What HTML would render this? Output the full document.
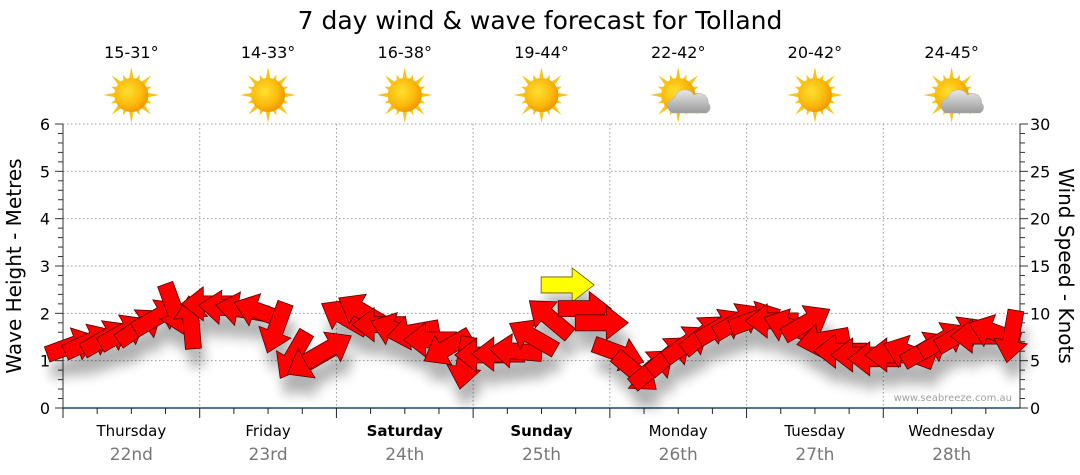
<!DOCTYPE html>
<html><head><meta charset="utf-8"><style>
html,body{margin:0;padding:0;background:#fff;width:1080px;height:475px;overflow:hidden}
svg text{font-family:"DejaVu Sans","Liberation Sans",sans-serif}
</style></head><body>
<svg id="c" width="1080" height="475" xmlns="http://www.w3.org/2000/svg">
<defs>
<radialGradient id="sunG" cx="40%" cy="40%" r="60%"><stop offset="0" stop-color="#ffe030"/><stop offset="0.7" stop-color="#fbb80a"/><stop offset="1" stop-color="#f09a00"/></radialGradient>
<linearGradient id="cloudG" x1="0" y1="0" x2="0" y2="1"><stop offset="0" stop-color="#e8e8e8"/><stop offset="1" stop-color="#9a9a9a"/></linearGradient>
<filter id="sh" x="-50%" y="-50%" width="200%" height="200%"><feGaussianBlur stdDeviation="6"/></filter>
</defs>
<text x="540" y="29" font-size="25" text-anchor="middle" fill="#000">7 day wind &amp; wave forecast for Tolland</text>
<g id="grid"></g><g id="axes"></g><g id="shadows" filter="url(#sh)" opacity="0.3"></g><g id="arrows"></g><g id="icons"></g>
<text x="1012" y="401" font-size="10" fill="#a0a0a0" text-anchor="end">www.seabreeze.com.au</text>
<text transform="translate(21,266) rotate(-90)" font-size="20" text-anchor="middle">Wave Height - Metres</text>
<text transform="translate(1059,266) rotate(90)" font-size="20" text-anchor="middle">Wind Speed - Knots</text>
</svg>
<script>
const days=["Thursday","Friday","Saturday","Sunday","Monday","Tuesday","Wednesday"];
const dates=["22nd","23rd","24th","25th","26th","27th","28th"];
const boldDays=[false,false,true,true,false,false,false];
const temps=["15-31°","14-33°","16-38°","19-44°","22-42°","20-42°","24-45°"];
const cloudy=[false,false,false,false,true,false,true];
const waveTicks=[0,1,2,3,4,5,6];
const windTicks=[0,5,10,15,20,25,30];
const windSpeed=[6.6,7.0,7.4,8.0,8.6,9.6,10.5,9.0,
 11.0,10.6,10.4,10.2,8.5,5.6,5.0,6.2,
 9.6,10.2,8.8,8.2,8.0,7.2,6.4,4.8,
 5.6,5.7,6.0,7.5,9.5,13.0,10.5,9.0,
 5.8,3.8,4.2,5.6,6.8,7.8,8.6,9.2,
 9.4,9.2,8.6,9.0,7.2,6.0,5.6,5.2,
 5.6,5.8,6.2,7.2,7.8,7.6,8.0,7.6];
const windDir=[-20,-25,-30,-30,-35,-30,70,-95,
 180,185,190,200,110,120,150,-30,
 -150,-150,180,-160,170,180,150,100,
 180,180,185,-150,-140,0,0,0,
 20,40,-40,-40,-35,-40,-30,-30,
 -20,180,-160,-30,170,180,180,180,
 180,-160,-30,-30,-30,180,-160,100];
const X0=63,X1=1020,Y0=408,Y1=124;
const dayW=(X1-X0)/7;
const yW=m=>Y0-(m/6)*(Y0-Y1);
const yK=k=>Y0-(k/30)*(Y0-Y1);
const xT=i=>X0+(i+0.5)*dayW/8;
const NS="http://www.w3.org/2000/svg";
function mk(t,a,p){const e=document.createElementNS(NS,t);for(const k in a)e.setAttribute(k,a[k]);p.appendChild(e);return e;}
const grid=document.getElementById('grid'),axes=document.getElementById('axes');
waveTicks.forEach(v=>{if(v>0){const l=mk('line',{x1:X0,x2:X1,y1:yW(v),y2:yW(v),stroke:'#999','stroke-dasharray':'1.5,2.5'},grid);

}
const t=mk('text',{x:50,y:yW(v)+6,'font-size':16,'text-anchor':'end'},axes);t.textContent=v;

});
for(let m=0;m<=30;m++){const y=yW(m*0.2);mk('line',{x1:X0-(m%5?5:8),x2:X0,y1:y,y2:y,stroke:'#333'},axes);}
windTicks.forEach(v=>{const t=mk('text',{x:1030,y:yK(v)+6,'font-size':16},axes);t.textContent=v;

});
for(let k=0;k<=30;k++){const y=yK(k);mk('line',{x1:X1,x2:X1+(k%5?5:8),y1:y,y2:y,stroke:'#333'},axes);}
mk('line',{x1:X0,x2:X0,y1:Y1,y2:Y0,stroke:'#333'},axes);
mk('line',{x1:X1,x2:X1,y1:Y1,y2:Y0,stroke:'#333'},axes);
mk('line',{x1:X0,x2:X1,y1:Y0,y2:Y0,stroke:'#1a4a6a','stroke-width':1.5},axes);
for(let d=0;d<7;d++){
 const xs=X0+d*dayW;
 if(d>0){const l=mk('line',{x1:xs,x2:xs,y1:Y1,y2:Y0,stroke:'#999','stroke-dasharray':'1.5,2.5'},grid);
 
 }
 for(let q=0;q<4;q++){const x=xs+q*dayW/4;mk('line',{x1:x,x2:x,y1:Y0,y2:Y0+(q?6:10),stroke:'#222'},axes);}
 const cx=xs+dayW/2;
 const t1=mk('text',{x:cx,y:436,'font-size':15,'text-anchor':'middle','font-weight':boldDays[d]?'bold':'normal'},axes);t1.textContent=days[d];
 
 
 const t2=mk('text',{x:cx,y:460,'font-size':17,'text-anchor':'middle',fill:'#777'},axes);t2.textContent=dates[d];
 
 
 const t3=mk('text',{x:cx,y:58,'font-size':16,'text-anchor':'middle'},document.getElementById('icons'));t3.textContent=temps[d];
 
 
 const g=mk('g',{transform:`translate(${cx},95)`},document.getElementById('icons'));
 
 
 for(let r=0;r<16;r++){const a=r*Math.PI/8,L=r%2?22:28;
  mk('polygon',{points:`${Math.cos(a)*L},${Math.sin(a)*L} ${Math.cos(a+0.2)*14},${Math.sin(a+0.2)*14} ${Math.cos(a-0.2)*14},${Math.sin(a-0.2)*14}`,fill:'#f5c518'},g);}
 mk('circle',{r:17,fill:'url(#sunG)'},g);
 if(cloudy[d]){mk('path',{d:'M-6,18 a8,8 0 0 1 2,-15 a11,11 0 0 1 20,-3 a9,9 0 0 1 14,8 a6,6 0 0 1 -2,10 z',fill:'url(#cloudG)',stroke:'#aaa','stroke-width':0.5},g);}
}
const arrows=document.getElementById('arrows'),sh=document.getElementById('shadows');
const maxI=windSpeed.indexOf(Math.max(...windSpeed));
const AP='-26,-8 5,-8 5,-17 27,0 5,17 5,8 -26,8';
windSpeed.forEach((s,i)=>{
 const x=xT(i),y=yK(s);
 mk('polygon',{points:AP,transform:`translate(${x+4},${y+18}) rotate(${windDir[i]})`,fill:'#000'},sh);
 const a=mk('polygon',{points:AP,transform:`translate(${x},${y}) rotate(${windDir[i]})`,fill:i===maxI?'#ffff00':'#ff0000',stroke:i===maxI?'#665500':'#550000','stroke-width':0.8},arrows);
 
 
});
</script>
</body></html>
